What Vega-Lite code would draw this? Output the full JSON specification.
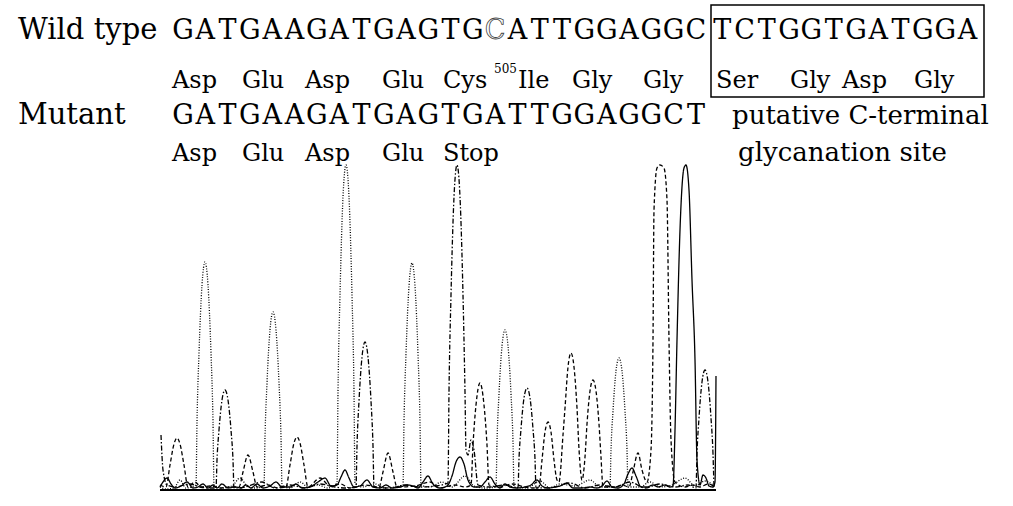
{
"$schema": "https://vega.github.io/schema/vega-lite/v6.json",
"width": 1013, "height": 506, "padding": 0, "autosize": {"type": "none"},
"background": "white",
"config": {"view": {"stroke": null}},
"datasets": {
"box": [{"x": 711, "x2": 984, "y": 485, "y2": 393}],
"baseline": [{"x": 160, "x2": 716, "y": 0}],
"labels": [{"text": "Wild type", "x": 18, "y": 451}, {"text": "Mutant", "x": 18, "y": 366}],
"notes": [{"text": "putative C-terminal", "x": 732, "y": 366}, {"text": "glycanation site", "x": 738, "y": 329}],
"sup": [{"text": "505", "x": 494, "y": 417}],
"aminoacids": [
{"aa": "Asp", "x": 172, "y": 402}, {"aa": "Glu", "x": 242, "y": 402}, {"aa": "Asp", "x": 305, "y": 402}, {"aa": "Glu", "x": 382, "y": 402},
{"aa": "Cys", "x": 443, "y": 402}, {"aa": "Ile", "x": 518, "y": 402}, {"aa": "Gly", "x": 572, "y": 402}, {"aa": "Gly", "x": 643, "y": 402},
{"aa": "Ser", "x": 716, "y": 402}, {"aa": "Gly", "x": 790, "y": 402}, {"aa": "Asp", "x": 842, "y": 402}, {"aa": "Gly", "x": 914, "y": 402},
{"aa": "Asp", "x": 172, "y": 329}, {"aa": "Glu", "x": 242, "y": 329}, {"aa": "Asp", "x": 305, "y": 329}, {"aa": "Glu", "x": 382, "y": 329}, {"aa": "Stop", "x": 443, "y": 329}
],
"bases": [
{"seq": "wild", "base": "G", "x": 183.0, "y": 451, "status": "normal"},
{"seq": "wild", "base": "A", "x": 205.3, "y": 451, "status": "normal"},
{"seq": "wild", "base": "T", "x": 227.6, "y": 451, "status": "normal"},
{"seq": "wild", "base": "G", "x": 249.9, "y": 451, "status": "normal"},
{"seq": "wild", "base": "A", "x": 272.2, "y": 451, "status": "normal"},
{"seq": "wild", "base": "A", "x": 294.5, "y": 451, "status": "normal"},
{"seq": "wild", "base": "G", "x": 316.8, "y": 451, "status": "normal"},
{"seq": "wild", "base": "A", "x": 339.1, "y": 451, "status": "normal"},
{"seq": "wild", "base": "T", "x": 361.4, "y": 451, "status": "normal"},
{"seq": "wild", "base": "G", "x": 383.7, "y": 451, "status": "normal"},
{"seq": "wild", "base": "A", "x": 406.0, "y": 451, "status": "normal"},
{"seq": "wild", "base": "G", "x": 428.3, "y": 451, "status": "normal"},
{"seq": "wild", "base": "T", "x": 450.6, "y": 451, "status": "normal"},
{"seq": "wild", "base": "G", "x": 472.9, "y": 451, "status": "normal"},
{"seq": "wild", "base": "C", "x": 495.2, "y": 451, "status": "deleted"},
{"seq": "wild", "base": "A", "x": 517.5, "y": 451, "status": "normal"},
{"seq": "wild", "base": "T", "x": 539.8, "y": 451, "status": "normal"},
{"seq": "wild", "base": "T", "x": 562.1, "y": 451, "status": "normal"},
{"seq": "wild", "base": "G", "x": 584.4, "y": 451, "status": "normal"},
{"seq": "wild", "base": "G", "x": 606.7, "y": 451, "status": "normal"},
{"seq": "wild", "base": "A", "x": 629.0, "y": 451, "status": "normal"},
{"seq": "wild", "base": "G", "x": 651.3, "y": 451, "status": "normal"},
{"seq": "wild", "base": "G", "x": 673.6, "y": 451, "status": "normal"},
{"seq": "wild", "base": "C", "x": 695.9, "y": 451, "status": "normal"},
{"seq": "wild", "base": "T", "x": 722.2, "y": 451, "status": "normal"},
{"seq": "wild", "base": "C", "x": 744.5, "y": 451, "status": "normal"},
{"seq": "wild", "base": "T", "x": 766.8, "y": 451, "status": "normal"},
{"seq": "wild", "base": "G", "x": 789.1, "y": 451, "status": "normal"},
{"seq": "wild", "base": "G", "x": 811.4, "y": 451, "status": "normal"},
{"seq": "wild", "base": "T", "x": 833.7, "y": 451, "status": "normal"},
{"seq": "wild", "base": "G", "x": 856.0, "y": 451, "status": "normal"},
{"seq": "wild", "base": "A", "x": 878.3, "y": 451, "status": "normal"},
{"seq": "wild", "base": "T", "x": 900.6, "y": 451, "status": "normal"},
{"seq": "wild", "base": "G", "x": 922.9, "y": 451, "status": "normal"},
{"seq": "wild", "base": "G", "x": 945.2, "y": 451, "status": "normal"},
{"seq": "wild", "base": "A", "x": 967.5, "y": 451, "status": "normal"},
{"seq": "mutant", "base": "G", "x": 183.0, "y": 366, "status": "normal"},
{"seq": "mutant", "base": "A", "x": 205.3, "y": 366, "status": "normal"},
{"seq": "mutant", "base": "T", "x": 227.6, "y": 366, "status": "normal"},
{"seq": "mutant", "base": "G", "x": 249.9, "y": 366, "status": "normal"},
{"seq": "mutant", "base": "A", "x": 272.2, "y": 366, "status": "normal"},
{"seq": "mutant", "base": "A", "x": 294.5, "y": 366, "status": "normal"},
{"seq": "mutant", "base": "G", "x": 316.8, "y": 366, "status": "normal"},
{"seq": "mutant", "base": "A", "x": 339.1, "y": 366, "status": "normal"},
{"seq": "mutant", "base": "T", "x": 361.4, "y": 366, "status": "normal"},
{"seq": "mutant", "base": "G", "x": 383.7, "y": 366, "status": "normal"},
{"seq": "mutant", "base": "A", "x": 406.0, "y": 366, "status": "normal"},
{"seq": "mutant", "base": "G", "x": 428.3, "y": 366, "status": "normal"},
{"seq": "mutant", "base": "T", "x": 450.6, "y": 366, "status": "normal"},
{"seq": "mutant", "base": "G", "x": 472.9, "y": 366, "status": "normal"},
{"seq": "mutant", "base": "A", "x": 495.2, "y": 366, "status": "normal"},
{"seq": "mutant", "base": "T", "x": 517.5, "y": 366, "status": "normal"},
{"seq": "mutant", "base": "T", "x": 539.8, "y": 366, "status": "normal"},
{"seq": "mutant", "base": "G", "x": 562.1, "y": 366, "status": "normal"},
{"seq": "mutant", "base": "G", "x": 584.4, "y": 366, "status": "normal"},
{"seq": "mutant", "base": "A", "x": 606.7, "y": 366, "status": "normal"},
{"seq": "mutant", "base": "G", "x": 629.0, "y": 366, "status": "normal"},
{"seq": "mutant", "base": "G", "x": 651.3, "y": 366, "status": "normal"},
{"seq": "mutant", "base": "C", "x": 673.6, "y": 366, "status": "normal"},
{"seq": "mutant", "base": "T", "x": 695.9, "y": 366, "status": "normal"}
],
"traces": [
{"trace":"A","x":160,"y":3},{"trace":"A","x":166,"y":1},{"trace":"A","x":174,"y":2},{"trace":"A","x":180,"y":10},{"trace":"A","x":186,"y":2},{"trace":"A","x":196,"y":5},{"trace":"A","x":197,"y":68},{"trace":"A","x":199,"y":137},{"trace":"A","x":202,"y":205},{"trace":"A","x":205,"y":228},{"trace":"A","x":208,"y":205},{"trace":"A","x":211,"y":137},{"trace":"A","x":213,"y":68},{"trace":"A","x":214,"y":5},{"trace":"A","x":222,"y":2},{"trace":"A","x":232,"y":4},{"trace":"A","x":240,"y":12},{"trace":"A","x":248,"y":3},{"trace":"A","x":256,"y":2},{"trace":"A","x":264,"y":4},{"trace":"A","x":265,"y":53},{"trace":"A","x":267,"y":107},{"trace":"A","x":270,"y":160},{"trace":"A","x":273,"y":178},{"trace":"A","x":276,"y":160},{"trace":"A","x":279,"y":107},{"trace":"A","x":281,"y":53},{"trace":"A","x":282,"y":4},{"trace":"A","x":290,"y":2},{"trace":"A","x":300,"y":8},{"trace":"A","x":308,"y":3},{"trace":"A","x":318,"y":5},{"trace":"A","x":328,"y":2},{"trace":"A","x":337,"y":7},{"trace":"A","x":338,"y":98},{"trace":"A","x":340,"y":195},{"trace":"A","x":343,"y":293},{"trace":"A","x":346,"y":325},{"trace":"A","x":349,"y":293},{"trace":"A","x":352,"y":195},{"trace":"A","x":354,"y":98},{"trace":"A","x":355,"y":7},{"trace":"A","x":362,"y":3},{"trace":"A","x":375,"y":6},{"trace":"A","x":385,"y":2},{"trace":"A","x":395,"y":3},{"trace":"A","x":403,"y":5},{"trace":"A","x":404,"y":68},{"trace":"A","x":406,"y":136},{"trace":"A","x":409,"y":204},{"trace":"A","x":412,"y":227},{"trace":"A","x":415,"y":204},{"trace":"A","x":418,"y":136},{"trace":"A","x":420,"y":68},{"trace":"A","x":421,"y":5},{"trace":"A","x":430,"y":3},{"trace":"A","x":442,"y":8},{"trace":"A","x":452,"y":3},{"trace":"A","x":465,"y":14},{"trace":"A","x":474,"y":4},{"trace":"A","x":485,"y":2},{"trace":"A","x":496,"y":3},{"trace":"A","x":497,"y":48},{"trace":"A","x":499,"y":96},{"trace":"A","x":502,"y":144},{"trace":"A","x":505,"y":160},{"trace":"A","x":508,"y":144},{"trace":"A","x":511,"y":96},{"trace":"A","x":513,"y":48},{"trace":"A","x":514,"y":3},{"trace":"A","x":527,"y":2},{"trace":"A","x":540,"y":9},{"trace":"A","x":550,"y":2},{"trace":"A","x":560,"y":6},{"trace":"A","x":575,"y":4},{"trace":"A","x":590,"y":10},{"trace":"A","x":600,"y":3},{"trace":"A","x":610,"y":3},{"trace":"A","x":611,"y":40},{"trace":"A","x":613,"y":79},{"trace":"A","x":616,"y":119},{"trace":"A","x":619,"y":132},{"trace":"A","x":622,"y":119},{"trace":"A","x":625,"y":79},{"trace":"A","x":627,"y":40},{"trace":"A","x":628,"y":3},{"trace":"A","x":640,"y":3},{"trace":"A","x":650,"y":8},{"trace":"A","x":660,"y":3},{"trace":"A","x":672,"y":5},{"trace":"A","x":685,"y":12},{"trace":"A","x":695,"y":4},{"trace":"A","x":705,"y":9},{"trace":"A","x":715,"y":3},
{"trace":"G","x":161,"y":55},{"trace":"G","x":163,"y":20},{"trace":"G","x":167,"y":5},{"trace":"G","x":175,"y":3},{"trace":"G","x":190,"y":6},{"trace":"G","x":200,"y":3},{"trace":"G","x":208,"y":2},{"trace":"G","x":216,"y":2},{"trace":"G","x":217,"y":30},{"trace":"G","x":219,"y":60},{"trace":"G","x":222,"y":90},{"trace":"G","x":225,"y":100},{"trace":"G","x":228,"y":90},{"trace":"G","x":231,"y":60},{"trace":"G","x":233,"y":30},{"trace":"G","x":234,"y":2},{"trace":"G","x":245,"y":3},{"trace":"G","x":262,"y":8},{"trace":"G","x":275,"y":2},{"trace":"G","x":290,"y":5},{"trace":"G","x":305,"y":2},{"trace":"G","x":320,"y":6},{"trace":"G","x":335,"y":3},{"trace":"G","x":346,"y":2},{"trace":"G","x":356,"y":3},{"trace":"G","x":357,"y":44},{"trace":"G","x":359,"y":89},{"trace":"G","x":362,"y":133},{"trace":"G","x":365,"y":148},{"trace":"G","x":368,"y":133},{"trace":"G","x":371,"y":89},{"trace":"G","x":373,"y":44},{"trace":"G","x":374,"y":3},{"trace":"G","x":390,"y":2},{"trace":"G","x":405,"y":5},{"trace":"G","x":420,"y":3},{"trace":"G","x":435,"y":4},{"trace":"G","x":448,"y":7},{"trace":"G","x":449,"y":98},{"trace":"G","x":451,"y":195},{"trace":"G","x":454,"y":293},{"trace":"G","x":457,"y":325},{"trace":"G","x":460,"y":293},{"trace":"G","x":463,"y":195},{"trace":"G","x":465,"y":98},{"trace":"G","x":466,"y":40},{"trace":"G","x":468,"y":35},{"trace":"G","x":471,"y":50},{"trace":"G","x":474,"y":40},{"trace":"G","x":478,"y":5},{"trace":"G","x":490,"y":3},{"trace":"G","x":505,"y":5},{"trace":"G","x":518,"y":2},{"trace":"G","x":519,"y":31},{"trace":"G","x":521,"y":61},{"trace":"G","x":524,"y":92},{"trace":"G","x":527,"y":102},{"trace":"G","x":530,"y":92},{"trace":"G","x":533,"y":61},{"trace":"G","x":535,"y":31},{"trace":"G","x":536,"y":2},{"trace":"G","x":555,"y":3},{"trace":"G","x":570,"y":7},{"trace":"G","x":585,"y":2},{"trace":"G","x":600,"y":5},{"trace":"G","x":615,"y":3},{"trace":"G","x":630,"y":8},{"trace":"G","x":645,"y":2},{"trace":"G","x":660,"y":6},{"trace":"G","x":675,"y":3},{"trace":"G","x":688,"y":5},{"trace":"G","x":696,"y":2},{"trace":"G","x":697,"y":36},{"trace":"G","x":699,"y":72},{"trace":"G","x":702,"y":108},{"trace":"G","x":705,"y":120},{"trace":"G","x":708,"y":108},{"trace":"G","x":711,"y":72},{"trace":"G","x":713,"y":36},{"trace":"G","x":714,"y":2},
{"trace":"T","x":160,"y":5},{"trace":"T","x":166,"y":3},{"trace":"T","x":170,"y":25},{"trace":"T","x":174,"y":46},{"trace":"T","x":177,"y":52},{"trace":"T","x":180,"y":46},{"trace":"T","x":184,"y":25},{"trace":"T","x":188,"y":3},{"trace":"T","x":195,"y":8},{"trace":"T","x":201,"y":3},{"trace":"T","x":210,"y":4},{"trace":"T","x":220,"y":2},{"trace":"T","x":230,"y":3},{"trace":"T","x":239,"y":3},{"trace":"T","x":243,"y":18},{"trace":"T","x":248,"y":35},{"trace":"T","x":253,"y":18},{"trace":"T","x":257,"y":3},{"trace":"T","x":268,"y":5},{"trace":"T","x":278,"y":2},{"trace":"T","x":286,"y":3},{"trace":"T","x":290,"y":25},{"trace":"T","x":294,"y":47},{"trace":"T","x":297,"y":53},{"trace":"T","x":300,"y":47},{"trace":"T","x":304,"y":25},{"trace":"T","x":308,"y":3},{"trace":"T","x":320,"y":12},{"trace":"T","x":330,"y":4},{"trace":"T","x":340,"y":6},{"trace":"T","x":350,"y":2},{"trace":"T","x":365,"y":5},{"trace":"T","x":379,"y":3},{"trace":"T","x":383,"y":18},{"trace":"T","x":388,"y":37},{"trace":"T","x":393,"y":18},{"trace":"T","x":397,"y":3},{"trace":"T","x":415,"y":4},{"trace":"T","x":430,"y":8},{"trace":"T","x":440,"y":2},{"trace":"T","x":455,"y":5},{"trace":"T","x":465,"y":3},{"trace":"T","x":471,"y":5},{"trace":"T","x":473,"y":45},{"trace":"T","x":476,"y":85},{"trace":"T","x":480,"y":107},{"trace":"T","x":484,"y":85},{"trace":"T","x":487,"y":45},{"trace":"T","x":489,"y":5},{"trace":"T","x":500,"y":3},{"trace":"T","x":512,"y":6},{"trace":"T","x":525,"y":3},{"trace":"T","x":533,"y":2},{"trace":"T","x":539,"y":3},{"trace":"T","x":542,"y":30},{"trace":"T","x":545,"y":58},{"trace":"T","x":548,"y":68},{"trace":"T","x":551,"y":58},{"trace":"T","x":554,"y":30},{"trace":"T","x":557,"y":10},{"trace":"T","x":559,"y":8},{"trace":"T","x":563,"y":55},{"trace":"T","x":565,"y":82},{"trace":"T","x":568,"y":123},{"trace":"T","x":571,"y":137},{"trace":"T","x":574,"y":123},{"trace":"T","x":577,"y":82},{"trace":"T","x":579,"y":41},{"trace":"T","x":582,"y":10},{"trace":"T","x":585,"y":33},{"trace":"T","x":587,"y":66},{"trace":"T","x":590,"y":99},{"trace":"T","x":593,"y":110},{"trace":"T","x":596,"y":99},{"trace":"T","x":599,"y":66},{"trace":"T","x":601,"y":33},{"trace":"T","x":603,"y":3},{"trace":"T","x":615,"y":3},{"trace":"T","x":622,"y":5},{"trace":"T","x":629,"y":3},{"trace":"T","x":633,"y":18},{"trace":"T","x":638,"y":37},{"trace":"T","x":642,"y":20},{"trace":"T","x":647,"y":8},{"trace":"T","x":651,"y":40},{"trace":"T","x":653,"y":150},{"trace":"T","x":654,"y":280},{"trace":"T","x":657,"y":322},{"trace":"T","x":660,"y":325},{"trace":"T","x":664,"y":322},{"trace":"T","x":667,"y":290},{"trace":"T","x":669,"y":150},{"trace":"T","x":671,"y":50},{"trace":"T","x":675,"y":8},{"trace":"T","x":685,"y":3},{"trace":"T","x":693,"y":5},{"trace":"T","x":700,"y":3},{"trace":"T","x":708,"y":6},{"trace":"T","x":715,"y":3},
{"trace":"C","x":160,"y":3},{"trace":"C","x":163,"y":8},{"trace":"C","x":167,"y":12},{"trace":"C","x":171,"y":6},{"trace":"C","x":175,"y":2},{"trace":"C","x":181,"y":4},{"trace":"C","x":187,"y":8},{"trace":"C","x":193,"y":2},{"trace":"C","x":198,"y":3},{"trace":"C","x":203,"y":6},{"trace":"C","x":208,"y":2},{"trace":"C","x":213,"y":5},{"trace":"C","x":217,"y":2},{"trace":"C","x":222,"y":6},{"trace":"C","x":228,"y":2},{"trace":"C","x":235,"y":3},{"trace":"C","x":241,"y":2},{"trace":"C","x":246,"y":5},{"trace":"C","x":251,"y":2},{"trace":"C","x":257,"y":6},{"trace":"C","x":263,"y":2},{"trace":"C","x":270,"y":4},{"trace":"C","x":276,"y":8},{"trace":"C","x":282,"y":3},{"trace":"C","x":290,"y":3},{"trace":"C","x":296,"y":6},{"trace":"C","x":302,"y":2},{"trace":"C","x":310,"y":3},{"trace":"C","x":318,"y":8},{"trace":"C","x":325,"y":12},{"trace":"C","x":331,"y":4},{"trace":"C","x":337,"y":5},{"trace":"C","x":341,"y":13},{"trace":"C","x":345,"y":20},{"trace":"C","x":349,"y":12},{"trace":"C","x":354,"y":3},{"trace":"C","x":360,"y":4},{"trace":"C","x":367,"y":10},{"trace":"C","x":373,"y":3},{"trace":"C","x":380,"y":2},{"trace":"C","x":386,"y":5},{"trace":"C","x":392,"y":2},{"trace":"C","x":400,"y":3},{"trace":"C","x":407,"y":5},{"trace":"C","x":413,"y":4},{"trace":"C","x":418,"y":2},{"trace":"C","x":423,"y":8},{"trace":"C","x":428,"y":14},{"trace":"C","x":433,"y":6},{"trace":"C","x":440,"y":2},{"trace":"C","x":447,"y":4},{"trace":"C","x":452,"y":14},{"trace":"C","x":456,"y":28},{"trace":"C","x":460,"y":33},{"trace":"C","x":464,"y":26},{"trace":"C","x":468,"y":10},{"trace":"C","x":474,"y":3},{"trace":"C","x":480,"y":3},{"trace":"C","x":485,"y":8},{"trace":"C","x":490,"y":13},{"trace":"C","x":495,"y":6},{"trace":"C","x":500,"y":2},{"trace":"C","x":505,"y":6},{"trace":"C","x":510,"y":3},{"trace":"C","x":517,"y":2},{"trace":"C","x":525,"y":3},{"trace":"C","x":531,"y":5},{"trace":"C","x":537,"y":10},{"trace":"C","x":542,"y":4},{"trace":"C","x":548,"y":2},{"trace":"C","x":555,"y":3},{"trace":"C","x":560,"y":4},{"trace":"C","x":567,"y":7},{"trace":"C","x":573,"y":2},{"trace":"C","x":582,"y":2},{"trace":"C","x":590,"y":3},{"trace":"C","x":597,"y":2},{"trace":"C","x":602,"y":4},{"trace":"C","x":607,"y":9},{"trace":"C","x":612,"y":3},{"trace":"C","x":618,"y":2},{"trace":"C","x":624,"y":6},{"trace":"C","x":628,"y":16},{"trace":"C","x":632,"y":22},{"trace":"C","x":636,"y":14},{"trace":"C","x":641,"y":3},{"trace":"C","x":647,"y":3},{"trace":"C","x":653,"y":5},{"trace":"C","x":658,"y":3},{"trace":"C","x":665,"y":5},{"trace":"C","x":670,"y":3},{"trace":"C","x":673,"y":4},{"trace":"C","x":675,"y":60},{"trace":"C","x":677,"y":150},{"trace":"C","x":680,"y":260},{"trace":"C","x":684,"y":322},{"trace":"C","x":686,"y":325},{"trace":"C","x":689,"y":300},{"trace":"C","x":692,"y":210},{"trace":"C","x":695,"y":130},{"trace":"C","x":697,"y":30},{"trace":"C","x":700,"y":5},{"trace":"C","x":703,"y":15},{"trace":"C","x":706,"y":12},{"trace":"C","x":709,"y":4},{"trace":"C","x":713,"y":3},{"trace":"C","x":715,"y":8},{"trace":"C","x":716,"y":114}
]
},
"encoding": {
"x": {"field": "x", "type": "quantitative", "scale": {"domain": [0, 1013], "nice": false, "zero": false}, "axis": null},
"y": {"field": "y", "type": "quantitative", "scale": {"domain": [-16, 490], "nice": false, "zero": false}, "axis": null}
},
"layer": [
{"data": {"name": "box"}, "mark": {"type": "rect", "fill": "transparent", "stroke": "black", "strokeWidth": 1.5}, "encoding": {"x2": {"field": "x2"}, "y2": {"field": "y2"}}},
{"data": {"name": "traces"}, "mark": {"type": "line", "interpolate": "monotone", "color": "black", "strokeWidth": 1.3},
 "encoding": {"strokeDash": {"field": "trace", "type": "nominal", "scale": {"domain": ["A", "G", "T", "C"], "range": [[1, 1.6], [5, 2, 1.5, 2], [4, 2.5], [1, 0]]}, "legend": null}}},
{"data": {"name": "baseline"}, "mark": {"type": "rule", "color": "black", "strokeWidth": 2}, "encoding": {"x2": {"field": "x2"}}},
{"data": {"name": "labels"}, "mark": {"type": "text", "font": "DejaVu Serif", "fontSize": 29, "align": "left", "baseline": "alphabetic", "color": "black"}, "encoding": {"text": {"field": "text"}}},
{"data": {"name": "notes"}, "mark": {"type": "text", "font": "DejaVu Serif", "fontSize": 26, "align": "left", "baseline": "alphabetic", "color": "black"}, "encoding": {"text": {"field": "text"}}},
{"data": {"name": "aminoacids"}, "mark": {"type": "text", "font": "DejaVu Serif", "fontSize": 24, "align": "left", "baseline": "alphabetic", "color": "black"}, "encoding": {"text": {"field": "aa"}}},
{"data": {"name": "sup"}, "mark": {"type": "text", "font": "DejaVu Serif", "fontSize": 12, "align": "left", "baseline": "alphabetic", "color": "black"}, "encoding": {"text": {"field": "text"}}},
{"data": {"name": "bases"}, "transform": [{"filter": "datum.status !== 'deleted'"}], "mark": {"type": "text", "font": "DejaVu Serif", "fontSize": 27, "align": "center", "baseline": "alphabetic", "color": "black"}, "encoding": {"text": {"field": "base"}}},
{"data": {"name": "bases"}, "transform": [{"filter": "datum.status === 'deleted'"}], "mark": {"type": "text", "font": "DejaVu Serif", "fontSize": 27, "align": "center", "baseline": "alphabetic", "fill": "white", "stroke": "#444", "strokeWidth": 0.8}, "encoding": {"text": {"field": "base"}}}
]
}
